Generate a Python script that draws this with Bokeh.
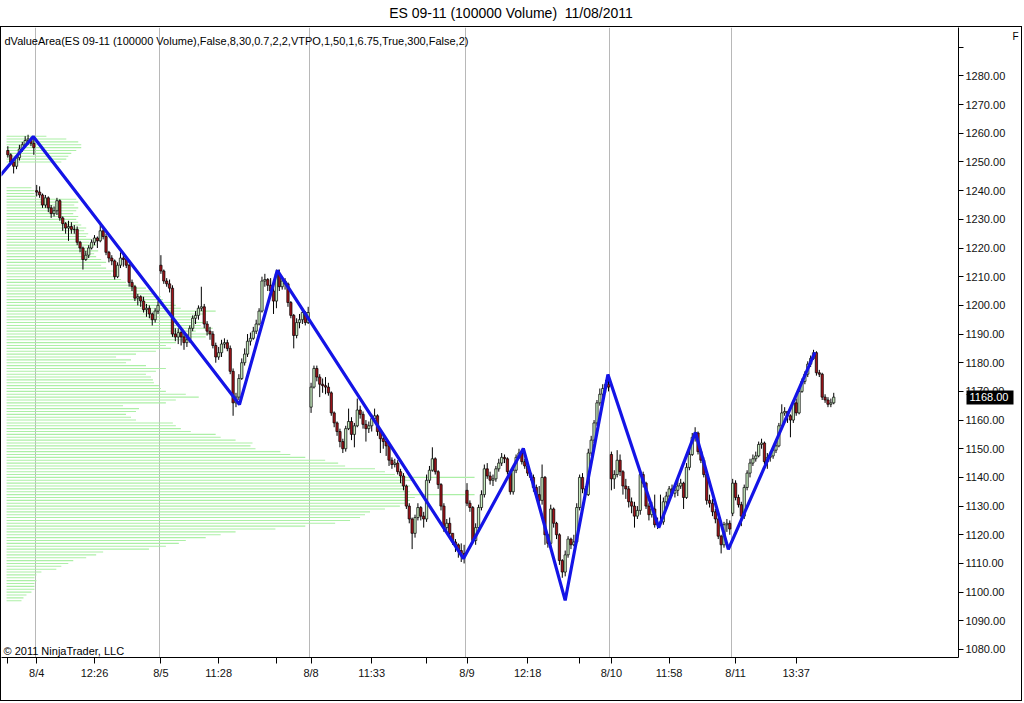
from bokeh.plotting import figure
from bokeh.models import (ColumnDataSource, FixedTicker, NumeralTickFormatter, Label, Range1d,
                          Div, LinearAxis)
from bokeh.layouts import column
from bokeh.embed import file_html
from bokeh.resources import INLINE

FONT = "Liberation Sans"

title_text = "ES 09-11 (100000 Volume)  11/08/2011"
indicator_text = "dValueArea(ES 09-11 (100000 Volume),False,8,30,0.7,2,2,VTPO,1,50,1,6.75,True,300,False,2)"
copyright_text = "\u00a9 2011 NinjaTrader, LLC"
last_price = 1168.00
flag_price = 1293.9

# ---- data -------------------------------------------------------------
session_first_bar = [0, 10, 53, 105, 159, 209, 251]
session_open = [1254, 1240, 1214, 1164.5, 1135.5, 1148, 1127.5]
session_bounds = [9.5, 52.5, 104.5, 158.5, 208.5, 250.5]

close_0803 = [1252.5, 1250, 1248.5, 1251.5, 1254.5, 1256, 1257.5, 1258, 1256.5, 1255]
high_0803 = [1255.5, 1253, 1251, 1252, 1256, 1257, 1259, 1259.5, 1258.5, 1258]
low_0803 = [1251.5, 1249, 1246, 1247.5, 1250.5, 1253.5, 1255, 1256, 1255.5, 1252.5]

close_0804 = [1239.5, 1238.5, 1235, 1237.5, 1234, 1232, 1233, 1236.5, 1230.5, 1228.5,
              1227, 1227.5, 1226.5, 1226.5, 1222, 1220, 1216, 1217.5, 1220, 1222,
              1223.5, 1222.5, 1226, 1224, 1218.5, 1216.5, 1215.5, 1210, 1214, 1216.5,
              1216, 1214, 1208, 1206.5, 1202.5, 1203, 1201.5, 1198.5, 1199, 1197,
              1195, 1198, 1200]
high_0804 = [1242, 1241.5, 1239, 1238.5, 1238, 1235, 1234.5, 1237.5, 1237, 1231,
             1229, 1229.5, 1229, 1228, 1227.5, 1222.5, 1220.5, 1219, 1221, 1223,
             1224.5, 1224, 1228, 1227, 1225, 1219, 1217.5, 1216, 1215, 1218.5,
             1217.5, 1217, 1214.5, 1209, 1207, 1204, 1203.5, 1203, 1200.5, 1200,
             1197.5, 1199, 1201.5]
low_0804 = [1238, 1237.5, 1234, 1234, 1232.5, 1230.5, 1231, 1231.5, 1229.5, 1226,
            1225, 1222.5, 1225, 1225, 1221, 1218.5, 1212.5, 1215.5, 1216.5, 1219.5,
            1221, 1220, 1222, 1223, 1217.5, 1215, 1214, 1209, 1209.5, 1213,
            1213.5, 1213, 1206.5, 1205, 1201.5, 1200, 1199.5, 1197.5, 1196, 1195.5,
            1193, 1194, 1197]

close_0805 = [1212, 1208.5, 1207.5, 1206, 1190, 1189, 1190.5, 1189, 1187, 1188,
              1192, 1195.5, 1196.5, 1199, 1199.5, 1193.5, 1191, 1190, 1186, 1182,
              1183.5, 1186.5, 1187, 1185, 1177, 1166, 1168, 1174.5, 1180, 1183,
              1187.5, 1188.5, 1191, 1193.5, 1198, 1208.5, 1209, 1207, 1205, 1201.5,
              1211, 1206.5, 1208.5, 1207.5, 1201, 1196.5, 1189.5, 1194, 1195, 1197.5,
              1194, 1197.5]
high_0805 = [1217.5, 1212.5, 1209.5, 1209, 1207, 1192, 1192, 1191, 1191, 1190,
             1193, 1196.5, 1198, 1200, 1206.5, 1200.5, 1194.5, 1192.5, 1191, 1187,
             1185.5, 1188, 1188.5, 1188, 1186, 1178, 1169.5, 1176, 1181.5, 1185,
             1190, 1190.5, 1192.5, 1195, 1199, 1210, 1211, 1209.5, 1209.5, 1206,
             1212.5, 1212.5, 1210, 1209.5, 1208, 1201.5, 1197, 1195.5, 1197, 1198.5,
             1198, 1199.5]
low_0805 = [1211, 1207.5, 1206.5, 1204.5, 1189, 1187.5, 1186.5, 1186, 1184.5, 1185.5,
            1187, 1191, 1193.5, 1195, 1198, 1192, 1189.5, 1188, 1185, 1180,
            1181, 1182, 1185, 1184, 1176, 1161.5, 1164.5, 1167, 1174, 1179,
            1182, 1186, 1188, 1190, 1193, 1197.5, 1206.5, 1205, 1203, 1197,
            1199, 1205, 1205.5, 1205.5, 1199.5, 1195.5, 1185, 1188.5, 1192, 1193.5,
            1193, 1193.5]

close_0808 = [1171.5, 1178, 1175, 1172.5, 1172, 1171.5, 1169.5, 1162.5, 1159, 1156,
              1152.5, 1150, 1157, 1159.5, 1155, 1158, 1163.5, 1162, 1158.5, 1157,
              1158, 1160.5, 1161.5, 1156, 1153.5, 1152.5, 1151, 1146, 1144.5, 1145,
              1142, 1140.5, 1137, 1130, 1125.5, 1120.5, 1126, 1129.5, 1126.5, 1125.5,
              1139, 1142.5, 1146.5, 1142, 1137.5, 1130, 1122.5, 1124, 1120.5, 1117.5,
              1116.5, 1114.5, 1113.5, 1112.5]
high_0808 = [1173, 1179, 1179, 1176, 1174.5, 1175, 1173, 1170, 1163, 1159.5,
             1157, 1153.5, 1158, 1164, 1161, 1159, 1167.5, 1165, 1163, 1160,
             1159.5, 1162, 1164, 1162, 1157, 1155, 1153.5, 1152, 1147, 1146.5,
             1146, 1143, 1141.5, 1137.5, 1131, 1126, 1127, 1131, 1130, 1128,
             1141, 1144, 1150.5, 1147, 1142.5, 1138, 1131, 1125.5, 1126, 1120.5,
             1118.5, 1117, 1117, 1116.5]
low_0808 = [1162.5, 1171, 1173.5, 1168, 1169.5, 1169, 1168.5, 1161.5, 1157.5, 1154.5,
            1150.5, 1148.5, 1149, 1156.5, 1153, 1150.5, 1157.5, 1160.5, 1157, 1152.5,
            1155.5, 1156, 1159.5, 1154.5, 1148.5, 1150, 1147.5, 1144, 1143, 1143.5,
            1141, 1138, 1135.5, 1129, 1124, 1115, 1119, 1125, 1125, 1122.5,
            1124.5, 1138, 1142, 1141, 1136, 1128.5, 1121, 1121.5, 1118.5, 1116.5,
            1114, 1112, 1110.5, 1110]

close_0809 = [1131, 1129.5, 1118, 1122.5, 1129.5, 1134, 1143, 1140.5, 1139, 1139.5,
              1143, 1145, 1147, 1146.5, 1142, 1135, 1142.5, 1147, 1148.5, 1145.5,
              1144, 1141.5, 1140, 1136.5, 1134, 1132, 1140, 1120, 1117, 1129,
              1124, 1120, 1111, 1107, 1113, 1118.5, 1116.5, 1117.5, 1129.5, 1140,
              1136, 1134, 1148.5, 1153, 1159, 1166, 1169, 1171, 1172.5, 1171.5]
high_0809 = [1138, 1132, 1130, 1124, 1130.5, 1135.5, 1144.5, 1145, 1142, 1141,
             1144, 1146.5, 1148.5, 1148, 1147, 1142.5, 1143.5, 1148, 1150, 1149,
             1146.5, 1145, 1142.5, 1141, 1137.5, 1137, 1144.5, 1140.5, 1120, 1130.5,
             1129.5, 1124.5, 1120.5, 1111.5, 1114.5, 1119.5, 1119, 1120, 1131, 1141,
             1141.5, 1137, 1150, 1154.5, 1160, 1167, 1171, 1172.5, 1174, 1176]
low_0809 = [1130, 1128, 1117, 1116.5, 1121.5, 1128.5, 1133, 1139.5, 1137.5, 1137,
            1138.5, 1142, 1144, 1145, 1141, 1134, 1134, 1141.5, 1146.5, 1144.5,
            1143, 1140.5, 1139, 1135, 1133, 1131, 1130.5, 1116.5, 1115.5, 1116,
            1122.5, 1118.5, 1109.5, 1105, 1105.5, 1112, 1115, 1116, 1117, 1128.5,
            1134.5, 1132.5, 1133.5, 1147.5, 1152, 1158, 1165, 1168, 1169.5, 1170]

close_0810 = [1139.5, 1141, 1146, 1142, 1137, 1136, 1131.5, 1130, 1126.5, 1128.5,
              1141, 1138, 1130, 1127, 1129, 1123.5, 1124, 1124.5, 1131.5, 1133.5,
              1136, 1134.5, 1135.5, 1137, 1138, 1133, 1143.5, 1148, 1154, 1155.5,
              1149, 1146, 1141, 1132, 1131, 1128, 1125.5, 1119.5, 1116.5, 1123.5,
              1124, 1122]
high_0810 = [1149, 1142.5, 1149.5, 1148, 1142.5, 1139.5, 1137, 1133, 1131.5, 1130,
             1142.5, 1142, 1138.5, 1131, 1131.5, 1134, 1126, 1134, 1133, 1135,
             1137, 1137.5, 1137, 1140, 1139.5, 1138.5, 1145, 1149.5, 1155.5, 1157.5,
             1156, 1150, 1147, 1142, 1134, 1132.5, 1129, 1126, 1120, 1124.5,
             1125.5, 1125]
low_0810 = [1135.5, 1136, 1140, 1140.5, 1134, 1132.5, 1129.5, 1127.5, 1122.5, 1125.5,
            1127, 1136.5, 1129, 1125, 1126, 1122.5, 1122, 1123, 1123.5, 1130.5,
            1132, 1133.5, 1133, 1133.5, 1136, 1129, 1132.5, 1142.5, 1147.5, 1152.5,
            1148, 1145, 1140, 1130.5, 1129.5, 1126.5, 1124, 1118.5, 1113.5, 1115.5,
            1121, 1120]

close_0811 = [1138, 1133, 1130.5, 1126.5, 1136.5, 1141.5, 1145, 1146.5, 1147.5, 1151.5,
              1152, 1145.5, 1147, 1147.5, 1149.5, 1151, 1158, 1162.5, 1163, 1161.5,
              1160, 1166, 1162.5, 1170, 1173.5, 1176, 1179.5, 1181.5, 1183.5, 1176.5,
              1176, 1168, 1167, 1165.5, 1166, 1168]
high_0811 = [1139.5, 1139, 1134, 1131.5, 1137.5, 1142.5, 1146.5, 1148, 1149, 1152.5,
             1153.5, 1152.5, 1148.5, 1149, 1150.5, 1152, 1159, 1165.5, 1164.5, 1163,
             1162, 1167, 1167.5, 1171, 1174.5, 1177, 1180.5, 1182.5, 1184.5, 1184,
             1177.5, 1176.5, 1169, 1168, 1167.5, 1169.5]
low_0811 = [1126.5, 1132, 1129.5, 1123, 1125.5, 1135.5, 1140, 1144, 1145.5, 1147,
            1150, 1144.5, 1143, 1145.5, 1146.5, 1148.5, 1150.5, 1157.5, 1161.5, 1159,
            1154, 1159, 1161.5, 1162, 1169.5, 1172.5, 1175, 1178.5, 1181, 1175.5,
            1175, 1167, 1166, 1164.5, 1164.5, 1165.5]

# swing (zigzag) pivots: bar position and price
zigzag_bar = [-2.6, 8.8, 80.2, 93.3, 157.8, 178.5, 193.0, 207.8, 225.4, 238.1, 249.5, 279.5]
zigzag_price = [1245.3, 1258.9, 1165.4, 1212.2, 1111.7, 1150.1, 1097.1, 1175.9,
                1122.5, 1155.7, 1114.9, 1183.6]

# volume-at-price profile, one value per point from 1097 to 1259
profile_low = 1097
profile_volume = [
    15, 17, 20, 25, 28, 28, 28, 30, 28, 30,
    35, 50, 55, 62, 67, 80, 90, 97, 143, 160,
    173, 180, 200, 215, 230, 270, 300, 330, 345, 355,
    360, 365, 380, 395, 400, 405, 410, 470, 405, 400,
    405, 400, 410, 470, 390, 380, 370, 340, 333, 320,
    300, 285, 275, 250, 245, 247, 230, 215, 210, 185,
    175, 170, 167, 130, 125, 120, 130, 133, 117, 160,
    170, 193, 180, 160, 155, 153, 148, 147, 145, 140,
    150, 160, 140, 120, 125, 110, 130, 150, 165, 160,
    170, 185, 200, 205, 190, 207, 195, 200, 185, 190,
    200, 210, 175, 170, 165, 157, 155, 150, 145, 140,
    130, 120, 115, 110, 105, 110, 100, 95, 100, 95,
    90, 88, 92, 85, 90, 83, 85, 80, 82, 78,
    80, 75, 72, 70, 72, 67, 70, 72, 68, 72,
    70, 30, 28, 28, 25, 0, 0, 0, 0, 0,
    0, 0, 0, 55, 60, 62, 65, 70, 75, 75,
    72, 60, 40]

tick_bars = [0, 10, 30, 53, 73, 93, 105, 126, 145, 159, 180, 198, 209, 229, 252, 273]
tick_labels = ["", "8/4", "12:26", "8/5", "11:28", "", "8/8", "11:33", "", "8/9",
               "12:18", "", "8/10", "11:58", "8/11", "13:37"]
price_ticks = list(range(1080, 1300, 10))

# ---- assemble ---------------------------------------------------------
closes = close_0803 + close_0804 + close_0805 + close_0808 + close_0809 + close_0810 + close_0811
highs = high_0803 + high_0804 + high_0805 + high_0808 + high_0809 + high_0810 + high_0811
lows = low_0803 + low_0804 + low_0805 + low_0808 + low_0809 + low_0810 + low_0811
n = len(closes)
bars = list(range(n))
opens = []
for i in range(n):
    if i in session_first_bar:
        opens.append(session_open[session_first_bar.index(i)])
    else:
        opens.append(closes[i - 1])
hi = [max(h, o, c) for h, o, c in zip(highs, opens, closes)]
lo = [min(l, o, c) for l, o, c in zip(lows, opens, closes)]

UP = "#c8ecc0"
DOWN = "#a0141a"
src = ColumnDataSource(dict(
    x=bars, h=hi, l=lo,
    top=[max(o, c) for o, c in zip(opens, closes)],
    bottom=[min(o, c) for o, c in zip(opens, closes)],
    fill=[UP if c >= o else DOWN for o, c in zip(opens, closes)],
))

PX_PER_BAR = 2.9
profile_left = -0.45
lv, x1s = [], []
for k, v in enumerate(profile_volume):
    if v > 0:
        lv.append(profile_low + k)
        x1s.append(profile_left + v / PX_PER_BAR)
prof_src = ColumnDataSource(dict(y=lv, x0=[profile_left] * len(lv), x1=x1s))

# ---- figure -----------------------------------------------------------
p = figure(width=1020, height=673, x_range=Range1d(-2.2, 329.2), y_range=Range1d(1077.2, 1296.9),
           y_axis_location="right", toolbar_location=None, output_backend="svg", title=None,
           min_border_left=0, min_border_right=59, min_border_top=0, min_border_bottom=43)
p.outline_line_color = None
p.background_fill_color = "white"
p.border_fill_color = "white"

p.segment(x0="x0", y0="y", x1="x1", y1="y", source=prof_src, line_color="#acefa6", line_width=1.1)
p.segment(x0="x", y0="l", x1="x", y1="h", source=src, line_color="black", line_width=1)
p.vbar(x="x", width=0.8, top="top", bottom="bottom", source=src,
       fill_color="fill", line_color="black", line_width=0.7)
p.line(zigzag_bar, zigzag_price, line_color="#1414e6", line_width=3.2)

xa = p.xaxis[0]
xa.ticker = FixedTicker(ticks=tick_bars)
xa.major_label_overrides = {b: t for b, t in zip(tick_bars, tick_labels)}
xa.minor_tick_line_color = None
xa.major_tick_in = 0
xa.major_tick_out = 6
xa.major_label_standoff = 3
xa.axis_line_color = "black"
xa.major_tick_line_color = "black"
xa.major_label_text_font = FONT
xa.major_label_text_font_size = "11px"
xa.major_label_text_color = "#111111"

ya = p.yaxis[0]
ya.ticker = FixedTicker(ticks=price_ticks)
ya.formatter = NumeralTickFormatter(format="0.00")
ya.major_label_overrides = {1290: ""}
ya.minor_tick_line_color = None
ya.major_tick_in = 0
ya.major_tick_out = 5
ya.major_label_standoff = 2
ya.axis_line_color = "black"
ya.major_tick_line_color = "black"
ya.major_label_text_font = FONT
ya.major_label_text_font_size = "11px"
ya.major_label_text_color = "#111111"

# last-price marker: a second right axis whose single thick tick points back inward
marker_axis = LinearAxis(ticker=FixedTicker(ticks=[last_price]),
                         major_label_overrides={last_price: "1168.00"})
marker_axis.axis_line_color = None
marker_axis.minor_tick_line_color = None
marker_axis.major_tick_in = 42
marker_axis.major_tick_out = 5
marker_axis.major_tick_line_width = 14
marker_axis.major_tick_line_color = "black"
marker_axis.major_tick_line_cap = "butt"
marker_axis.major_label_standoff = -44
marker_axis.major_label_text_color = "white"
marker_axis.major_label_text_font = FONT
marker_axis.major_label_text_font_size = "11px"
p.add_layout(marker_axis, "right")

flag_axis = LinearAxis(ticker=FixedTicker(ticks=[flag_price]),
                       major_label_overrides={flag_price: "F"})
flag_axis.axis_line_color = None
flag_axis.minor_tick_line_color = None
flag_axis.major_tick_line_color = None
flag_axis.major_tick_in = 0
flag_axis.major_tick_out = 0
flag_axis.major_label_standoff = 1
flag_axis.major_label_text_font = FONT
flag_axis.major_label_text_font_size = "10px"
flag_axis.major_label_text_color = "black"
p.add_layout(flag_axis, "right")

p.xgrid.ticker = FixedTicker(ticks=session_bounds)
p.xgrid.grid_line_color = "#b8b8b8"
p.ygrid.grid_line_color = None

p.add_layout(Label(x=3, y=617, x_units="screen", y_units="screen", text=indicator_text,
                   text_font=FONT, text_font_size="11px", text_baseline="middle",
                   text_color="#000000"))
p.add_layout(Label(x=2, y=7, x_units="screen", y_units="screen", text=copyright_text,
                   text_font=FONT, text_font_size="11px", text_baseline="middle",
                   text_color="#000000"))

title_div = Div(text=('<div style="width:1022px;text-align:center;white-space:pre;'
                      'font-family:\'Liberation Sans\',Arial,sans-serif;font-size:14px;'
                      'line-height:26px;color:#000;">' + title_text + '</div>'),
                width=1022, height=26, margin=0)

box = column(p, styles={"border": "1px solid #000000"})
layout = column(title_div, box)
open("out.html", "w").write(file_html(layout, INLINE))
